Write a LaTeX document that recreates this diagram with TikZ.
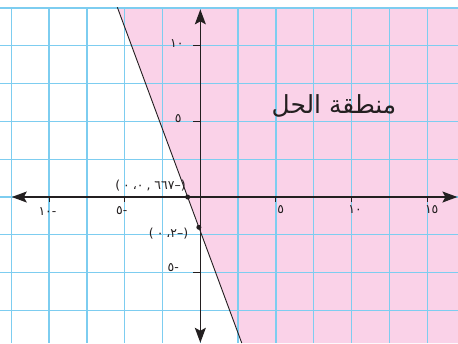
\documentclass[tikz,border=0pt]{standalone}
\usepackage{fontspec}
\usetikzlibrary{arrows.meta,calc}
\TeXXeTstate=1
\newfontfamily\arabicfont[Script=Arabic]{DejaVu Sans}
\newfontfamily\numfont{DejaVu Sans}
\definecolor{regionpink}{RGB}{250,210,232}
\definecolor{gridblue}{RGB}{125,205,240}
\definecolor{axisblack}{RGB}{35,31,32}
\tikzset{
  gridline/.style={draw=gridblue,line width=1.3bp},
  axisline/.style={draw=axisblack,line width=1.4bp,
    {Stealth[length=15bp,width=11bp,inset=3bp]}-{Stealth[length=15bp,width=11bp,inset=3bp]}},
  tickmark/.style={draw=axisblack,line width=1.1bp},
  boundary/.style={draw=axisblack,line width=0.9bp},
  ticklabel/.style={font=\numfont\fontsize{12.5}{14}\selectfont,text=axisblack,inner sep=0pt},
  pointlabel/.style={font=\numfont\fontsize{12.5}{14}\selectfont,text=axisblack,inner sep=0pt},
  pointdot/.style={circle,fill=axisblack,inner sep=0pt,minimum size=5bp},
  regionlabel/.style={font=\arabicfont\fontsize{25}{29}\selectfont,text=axisblack,inner sep=0pt}
}
\begin{document}
\begin{tikzpicture}[x=0.5334cm,y=0.5334cm]
\useasboundingbox (-13.25,-9.66) rectangle (17.04,13.03);
\fill[white] (-13.25,-9.66) rectangle (17.04,13.03);
\coordinate (T) at (-5.49,12.55);
\coordinate (B) at (2.74,-9.66);
% shaded solution region
\begin{scope}
  \clip (-13.25,-9.66) rectangle (17.04,12.5);
  \fill[regionpink] (T) -- (17.04,12.55) -- (17.04,-9.66) -- (B) -- cycle;
\end{scope}
% grid
\foreach \k in {-3,...,5} \draw[gridline] (-13.25,{2.5*\k}) -- (17.04,{2.5*\k});
\foreach \k in {-5,...,6} \draw[gridline] ({2.5*\k},12.5) -- ({2.5*\k},-9.66);
% boundary line
\draw[boundary] (T) -- (B);
% axes
\coordinate (xl) at (-12.47,0);
\coordinate (xr) at (17.0,0);
\coordinate (yt) at (0,12.41);
\coordinate (yb) at (0,-9.64);
\draw[axisline] (xl) -- (xr);
\draw[axisline] (yb) -- (yt);
% ticks
\foreach \x in {-10,-5,5,10,15} \draw[tickmark] (\x,0) -- (\x,-0.36);
\foreach \y in {-5,5,10} \draw[tickmark] (0,\y) -- (-0.47,\y);
% tick labels
\node[ticklabel] (xm10) at (-10.11,-0.93) {١٠-};
\node[ticklabel] (xm5) at (-5.2,-0.88) {٥-};
\node[ticklabel] (x5) at (5.32,-0.82) {٥};
\node[ticklabel] (x10) at (10.23,-0.82) {١٠};
\node[ticklabel] (x15) at (15.30,-0.82) {١٥};
\node[ticklabel] (y10) at (-1.56,10.17) {١٠};
\node[ticklabel] (y5) at (-1.46,5.2) {٥};
\node[ticklabel] (ym5) at (-1.79,-4.65) {٥-};
% points
\node[pointdot] (p1) at ($(T)!0.5651!(B)$) {};
\node[pointdot] (p2) at ($(T)!0.6551!(B)$) {};
\node[pointlabel] (p1label) at (-3.3,0.75) {(\kern3bp٠\kern3bp،٠\kern3bp,\kern4bp٦٦٧–)};
\node[pointlabel] (p2label) at (-2.1,-2.40) {(\kern3bp٠\kern3bp،٢–)};
% region label
\node[regionlabel] (region) at (8.84,6.02) {\beginR منطقة الحل\endR};
\end{tikzpicture}
\end{document}
